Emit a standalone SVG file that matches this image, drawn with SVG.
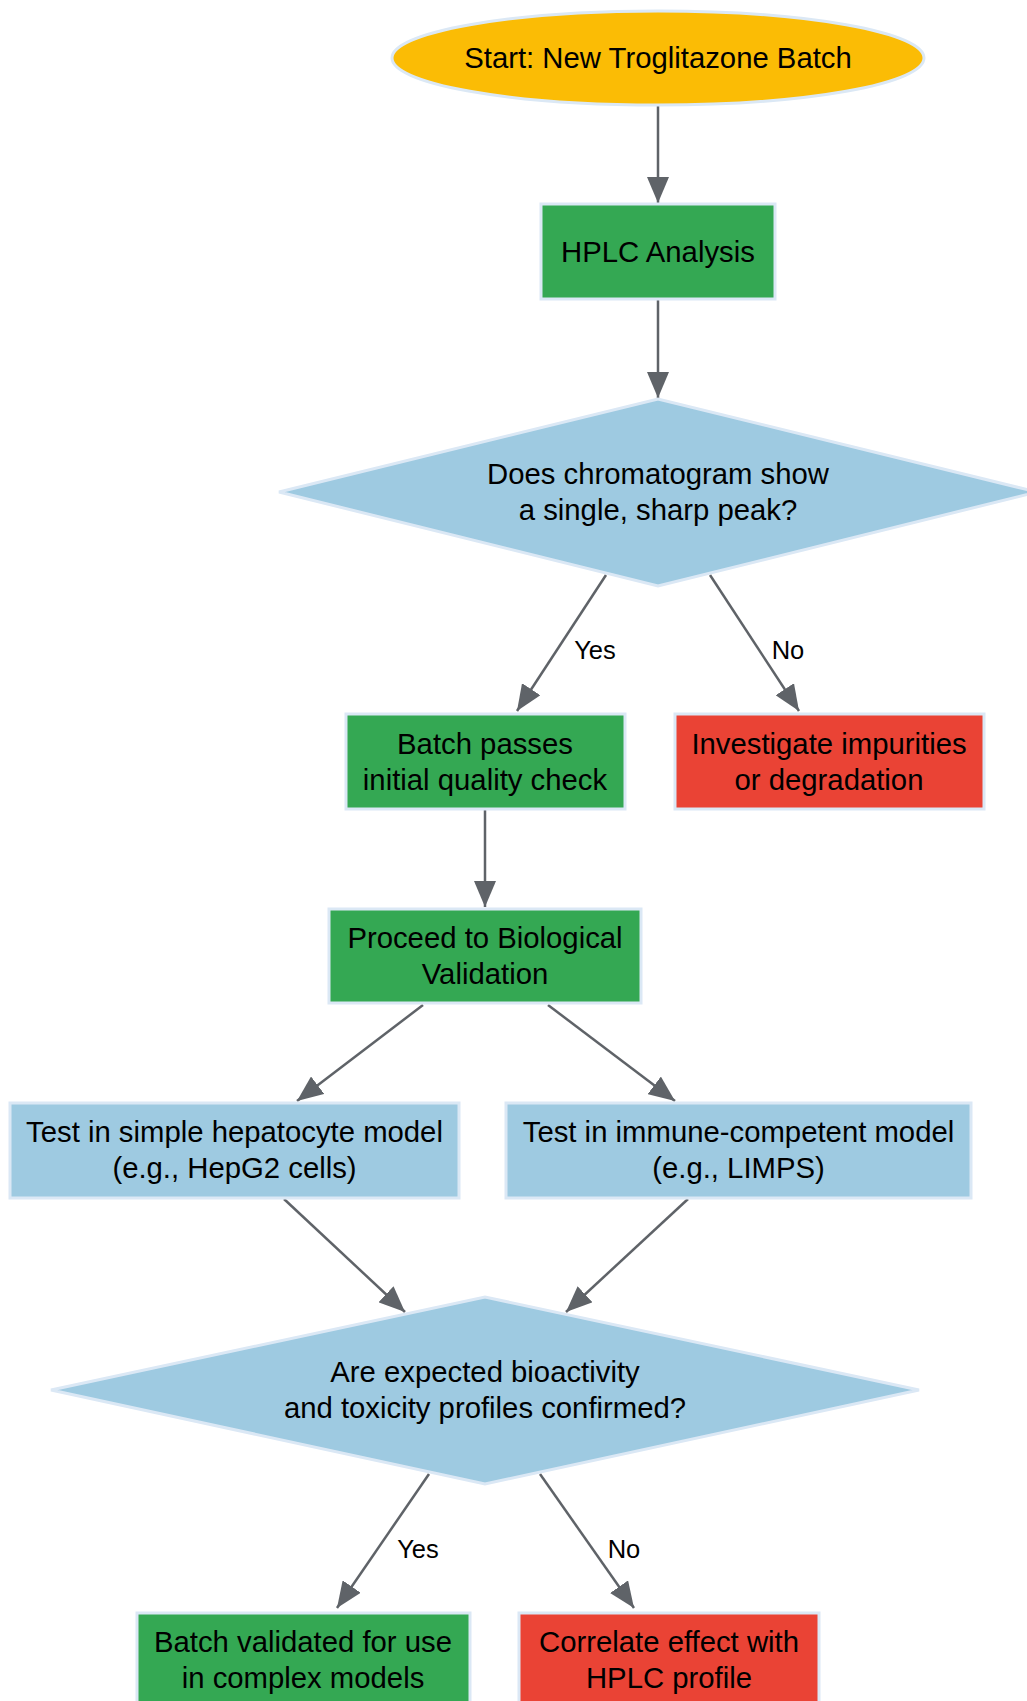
<svg xmlns="http://www.w3.org/2000/svg" width="1027" height="1701" viewBox="0 0 1027 1701">
<style>
.n{stroke:#dbe8f5;stroke-width:3}
.g{fill:#34a853}
.r{fill:#ea4335}
.b{fill:#9ecae1}
.y{fill:#fbbc05}
text{font-family:"Liberation Sans",Arial,sans-serif;font-size:29.3px;fill:#000;text-anchor:middle}
.l{font-size:25.5px}
.e{stroke:#5f6368;stroke-width:2.5;fill:none;marker-end:url(#ah)}
</style>
<defs>
<marker id="ah" viewBox="0 0 26 22" refX="26" refY="11" markerWidth="26" markerHeight="22" orient="auto" markerUnits="userSpaceOnUse">
<path d="M0,0 L26,11 L0,22 z" fill="#5f6368"/>
</marker>
</defs>
<rect width="1027" height="1701" fill="#fff"/>
<g id="connectors">
<line class="e" x1="658" y1="105" x2="658" y2="203"/>
<line class="e" x1="658" y1="300" x2="658" y2="398"/>
<line class="e" x1="606" y1="575" x2="517" y2="711"/>
<line class="e" x1="710" y1="575" x2="799" y2="711"/>
<line class="e" x1="485" y1="810" x2="485" y2="907"/>
<line class="e" x1="423" y1="1005" x2="297" y2="1101"/>
<line class="e" x1="548" y1="1005" x2="675" y2="1101"/>
<line class="e" x1="284" y1="1199" x2="405" y2="1312"/>
<line class="e" x1="688" y1="1199" x2="566" y2="1312"/>
<line class="e" x1="429" y1="1474" x2="337" y2="1608"/>
<line class="e" x1="540" y1="1474" x2="634" y2="1608"/>
<text class="l" x="595" y="659">Yes</text>
<text class="l" x="788" y="659">No</text>
<text class="l" x="418" y="1558">Yes</text>
<text class="l" x="624" y="1558">No</text>
</g>
<g id="start">
<ellipse class="n y" cx="658" cy="58" rx="266" ry="47"/>
<text x="658" y="68">Start: New Troglitazone Batch</text>
</g>
<g id="hplc">
<rect class="n g" x="541" y="204" width="234" height="95"/>
<text x="658" y="262">HPLC Analysis</text>
</g>
<g id="decision1">
<polygon class="n b" points="279,492 658,399 1037,492 658,586"/>
<text x="658" y="484">Does chromatogram show</text>
<text x="658" y="520">a single, sharp peak?</text>
</g>
<g id="passes">
<rect class="n g" x="346" y="714" width="279" height="95"/>
<text x="485" y="754">Batch passes</text>
<text x="485" y="790">initial quality check</text>
</g>
<g id="investigate">
<rect class="n r" x="675" y="714" width="309" height="95"/>
<text x="829" y="754">Investigate impurities</text>
<text x="829" y="790">or degradation</text>
</g>
<g id="proceed">
<rect class="n g" x="329" y="909" width="312" height="94"/>
<text x="485" y="948">Proceed to Biological</text>
<text x="485" y="984">Validation</text>
</g>
<g id="hepatocyte">
<rect class="n b" x="10" y="1103" width="449" height="95"/>
<text x="234.5" y="1142">Test in simple hepatocyte model</text>
<text x="234.5" y="1178">(e.g., HepG2 cells)</text>
</g>
<g id="immune">
<rect class="n b" x="506" y="1103" width="465" height="95"/>
<text x="738.5" y="1142">Test in immune-competent model</text>
<text x="738.5" y="1178">(e.g., LIMPS)</text>
</g>
<g id="decision2">
<polygon class="n b" points="51,1390 485,1297 919,1390 485,1484"/>
<text x="485" y="1382">Are expected bioactivity</text>
<text x="485" y="1418">and toxicity profiles confirmed?</text>
</g>
<g id="validated">
<rect class="n g" x="137" y="1613" width="333" height="95"/>
<text x="303" y="1652">Batch validated for use</text>
<text x="303" y="1688">in complex models</text>
</g>
<g id="correlate">
<rect class="n r" x="519" y="1613" width="300" height="95"/>
<text x="669" y="1652">Correlate effect with</text>
<text x="669" y="1688">HPLC profile</text>
</g>
</svg>
